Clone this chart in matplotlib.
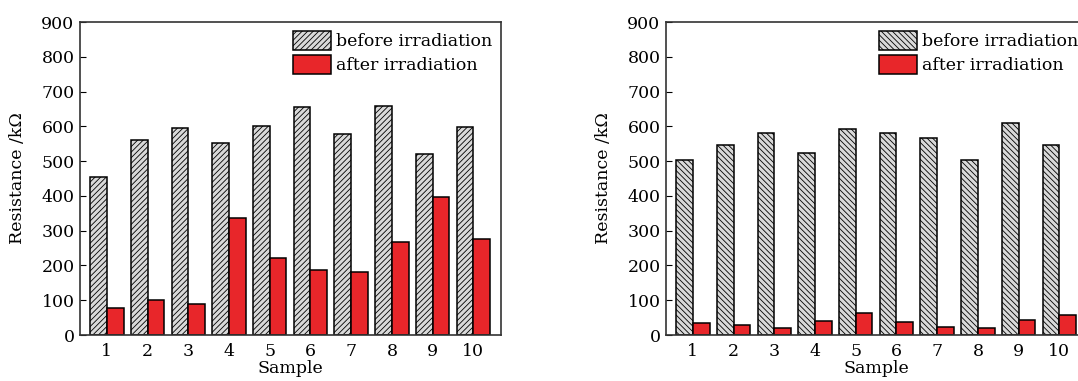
import matplotlib
matplotlib.use('Agg')
import matplotlib.pyplot as plt
import numpy as np

plt.rcParams['font.family'] = 'DejaVu Serif'
plt.rcParams['hatch.color'] = '#555555'
plt.rcParams['hatch.linewidth'] = 0.6

# Datos
samples = np.arange(1, 11)
sample_labels = [str(s) for s in samples]

before_a = [453, 562, 596, 552, 602, 656, 577, 658, 520, 599]
after_a = [78, 102, 89, 336, 221, 188, 181, 266, 396, 277]

before_b = [503, 547, 580, 523, 592, 580, 567, 504, 609, 547]
after_b = [34, 28, 21, 39, 63, 36, 23, 19, 43, 57]

W, H = 1078, 381
fig = plt.figure(figsize=(W / 100, H / 100), dpi=100)

ax1 = fig.add_axes([80 / W, 46 / H, 421 / W, 313 / H])
ax2 = fig.add_axes([666 / W, 46 / H, 421 / W, 313 / H])

width = 0.41


def draw(ax, before, after, hatch):
    ax.bar(samples - width / 2, before, width, color='#d9d9d9', edgecolor='black',
           linewidth=1.1, hatch=hatch, label='before irradiation')
    ax.bar(samples + width / 2, after, width, color='#e8262a', edgecolor='black',
           linewidth=1.1, label='after irradiation')
    ax.set_xlim(0.34, 10.68)
    ax.set_ylim(0, 900)
    ax.set_yticks(np.arange(0, 901, 100))
    ax.set_xticks(samples)
    ax.set_xticklabels(sample_labels)
    ax.tick_params(axis='y', direction='in', length=4, labelsize=12.5, pad=4)
    ax.tick_params(axis='x', length=0, labelsize=12.5, pad=6)
    for s in ax.spines.values():
        s.set_linewidth(1.2)
        s.set_color('#333333')
    ax.set_xlabel('Sample', fontsize=12.5, labelpad=0)
    ax.set_ylabel('Resistance /k\u03a9', fontsize=12.5, labelpad=11)
    ax.legend(loc='upper right', frameon=False, fontsize=12.5, handlelength=2.2,
              handleheight=1.3, handletextpad=0.3, labelspacing=0.3,
              borderaxespad=0.1)


draw(ax1, before_a, after_a, '//////')
draw(ax2, before_b, after_b, '\\\\\\\\\\\\')

fig.savefig('out.png', dpi=100)
